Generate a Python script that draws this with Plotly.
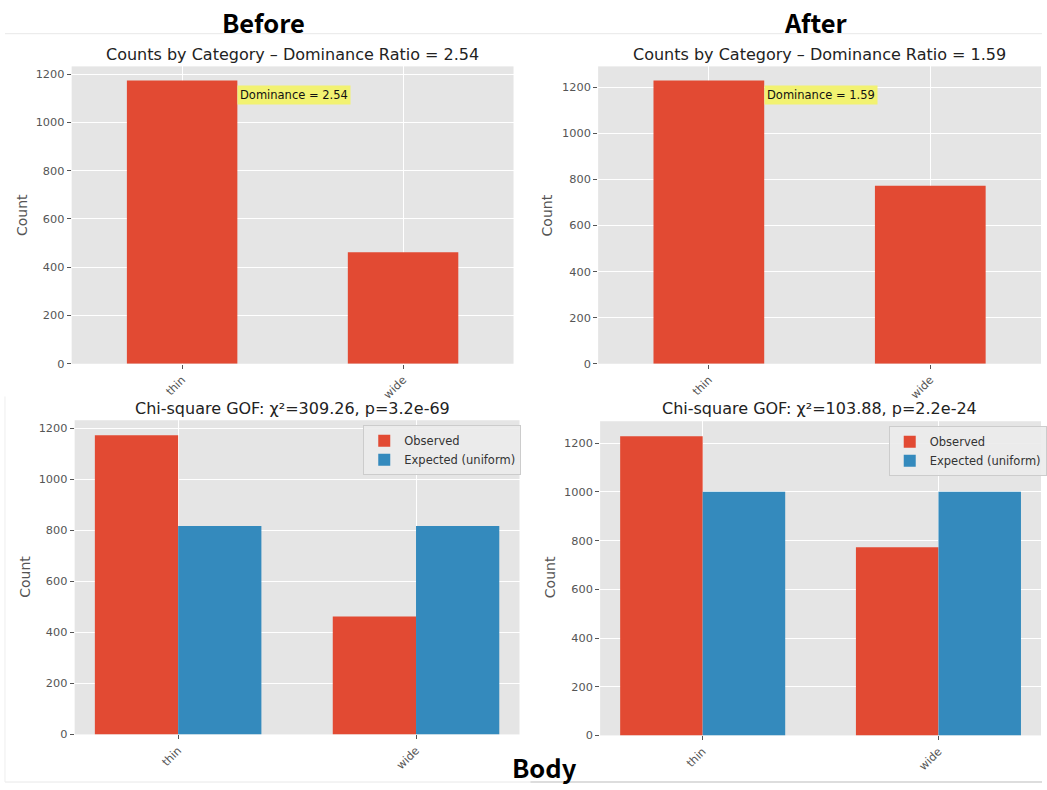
import plotly.graph_objects as go

W, H = 1047, 790

categories = ["thin", "wide"]
before_counts = [1173, 462]
after_counts = [1229, 773]
before_expected = [817.5, 817.5]
after_expected = [1001, 1001]
before_ratio = "2.54"
after_ratio = "1.59"
before_chi = "χ²=309.26, p=3.2e-69"
after_chi = "χ²=103.88, p=2.2e-24"
yticks = [0, 200, 400, 600, 800, 1000, 1200]

RED = "#E24A33"
BLUE = "#348ABD"
BG = "#E5E5E5"
TXT = "#555555"
FONT = "DejaVu Sans"


def px(x):
    return x / W


def py(y):
    return 1 - y / H


# plot areas in pixels: (x0, x1, y0, y1)
areas = {
    "tl": (72, 516, 67, 367),
    "tr": (601, 1046, 67, 367),
    "bl": (75, 522, 424, 741),
    "br": (603, 1046, 425, 742),
}
axmap = {"tl": ("x", "y"), "tr": ("x2", "y2"), "bl": ("x3", "y3"), "br": ("x4", "y4")}

fig = go.Figure()

# top: counts
fig.add_trace(go.Bar(x=categories, y=before_counts, width=0.5, marker=dict(color=RED, line=dict(width=0)),
                     xaxis="x", yaxis="y", showlegend=False))
fig.add_trace(go.Bar(x=categories, y=after_counts, width=0.5, marker=dict(color=RED, line=dict(width=0)),
                     xaxis="x2", yaxis="y2", showlegend=False))
# bottom: chi-square
fig.add_trace(go.Bar(x=categories, y=before_counts, width=0.35, offset=-0.35, name="Observed",
                     marker=dict(color=RED, line=dict(width=0)), xaxis="x3", yaxis="y3", legend="legend"))
fig.add_trace(go.Bar(x=categories, y=before_expected, width=0.35, offset=0, name="Expected (uniform)",
                     marker=dict(color=BLUE, line=dict(width=0)), xaxis="x3", yaxis="y3", legend="legend"))
fig.add_trace(go.Bar(x=categories, y=after_counts, width=0.35, offset=-0.35, name="Observed",
                     marker=dict(color=RED, line=dict(width=0)), xaxis="x4", yaxis="y4", legend="legend2"))
fig.add_trace(go.Bar(x=categories, y=after_expected, width=0.35, offset=0, name="Expected (uniform)",
                     marker=dict(color=BLUE, line=dict(width=0)), xaxis="x4", yaxis="y4", legend="legend2"))

ymax = {
    "tl": max(before_counts) * 1.05,
    "tr": max(after_counts) * 1.05,
    "bl": max(before_counts + before_expected) * 1.05,
    "br": max(after_counts + after_expected) * 1.05,
}
xrange = {"tl": [-0.5, 1.5], "tr": [-0.5, 1.5], "bl": [-0.435, 1.435], "br": [-0.435, 1.435]}

layout = dict(
    autosize=True, margin=dict(l=0, r=0, t=0, b=0),
    paper_bgcolor="white", plot_bgcolor=BG, barmode="overlay",
    font=dict(family=FONT, color=TXT),
)

for key, (x0, x1, y0, y1) in areas.items():
    xa, ya = axmap[key]
    xname = "xaxis" + xa[1:]
    yname = "yaxis" + ya[1:]
    layout[xname] = dict(
        domain=[px(x0), px(x1)], anchor=ya, type="category", range=xrange[key],
        showgrid=True, gridcolor="white", gridwidth=1, zeroline=False,
        ticks="outside", ticklen=4, tickcolor=TXT, tickangle=-45,
        tickfont=dict(family=FONT, size=11.3, color=TXT), showline=False,
    )
    layout[yname] = dict(
        domain=[py(y1), py(y0)], anchor=xa, range=[0, ymax[key]],
        tickvals=yticks, showgrid=True, gridcolor="white", gridwidth=1, zeroline=False,
        ticks="outside", ticklen=4, tickcolor=TXT,
        tickfont=dict(family=FONT, size=11.3, color=TXT), showline=False,
    )

layout["legend"] = dict(
    x=px(365), y=py(429), xanchor="left", yanchor="top",
    bgcolor="rgba(235,235,235,0.9)", bordercolor="#CCCCCC", borderwidth=1,
    font=dict(family=FONT, size=11.5, color="#333333"), tracegroupgap=0,
    itemwidth=30,
)
layout["legend2"] = dict(
    x=px(893), y=py(430), xanchor="left", yanchor="top",
    bgcolor="rgba(235,235,235,0.9)", bordercolor="#CCCCCC", borderwidth=1,
    font=dict(family=FONT, size=11.5, color="#333333"), tracegroupgap=0,
    itemwidth=30,
)

fig.update_layout(**layout)

ann = []
# subplot titles
titles = [
    ("Counts by Category – Dominance Ratio = " + before_ratio, 294, 55),
    ("Counts by Category – Dominance Ratio = " + after_ratio, 823, 55),
    ("Chi-square GOF: " + before_chi, 294, 412),
    ("Chi-square GOF: " + after_chi, 823, 412),
]
for t, x, y in titles:
    ann.append(dict(text=t, x=px(x), y=py(y), xref="paper", yref="paper", showarrow=False,
                    xanchor="center", yanchor="middle", font=dict(family=FONT, size=16, color="#222222")))
# y axis titles
for x, y in [(22, 217), (550, 217), (25, 582), (552, 582)]:
    ann.append(dict(text="Count", x=px(x), y=py(y), xref="paper", yref="paper", showarrow=False,
                    textangle=-90, xanchor="center", yanchor="middle",
                    font=dict(family=FONT, size=14, color=TXT)))
# dominance annotations
for xa, ya, counts, r in [("x", "y", before_counts, before_ratio), ("x2", "y2", after_counts, after_ratio)]:
    ann.append(dict(text="Dominance = " + r, x=0.25, y=max(counts) * 0.95, xref=xa, yref=ya,
                    showarrow=False, xanchor="left", yanchor="middle", bgcolor="#F2F272",
                    borderpad=2, font=dict(family=FONT, size=11.5, color="#111111")))
# headers
HEAD = "Noto Sans CJK SC"
for t, x, y in [("Before", 265, 22), ("After", 820, 22), ("Body", 547, 773)]:
    ann.append(dict(text="<b>" + t + "</b>", x=px(x), y=py(y), xref="paper", yref="paper", showarrow=False,
                    xanchor="center", yanchor="middle", font=dict(family=HEAD, size=25.5, color="black")))
fig.update_layout(annotations=ann)

shapes = [
    dict(type="line", xref="paper", yref="paper", x0=px(5), x1=1, y0=py(34), y1=py(34),
         line=dict(color="#E8E8E8", width=1)),
    dict(type="line", xref="paper", yref="paper", x0=px(5), x1=px(533), y0=py(789), y1=py(789),
         line=dict(color="#E8E8E8", width=1)),
    dict(type="line", xref="paper", yref="paper", x0=px(533), x1=1, y0=py(789), y1=py(789),
         line=dict(color="#BBBBBB", width=1)),
    dict(type="line", xref="paper", yref="paper", x0=px(5), x1=px(5), y0=py(400), y1=py(789),
         line=dict(color="#EEEEEE", width=1)),
]
fig.update_layout(shapes=shapes)

post = (
    "var h=document.documentElement, b=document.body;"
    "h.style.margin='0';h.style.padding='0';h.style.overflow='hidden';"
    "b.style.margin='0';b.style.padding='0';b.style.overflow='hidden';"
    "window.dispatchEvent(new Event('resize'));"
)

fig.write_html(
    "out.html",
    config={"displayModeBar": False, "responsive": True},
    default_width="100vw",
    default_height="100vh",
    post_script=post,
)
